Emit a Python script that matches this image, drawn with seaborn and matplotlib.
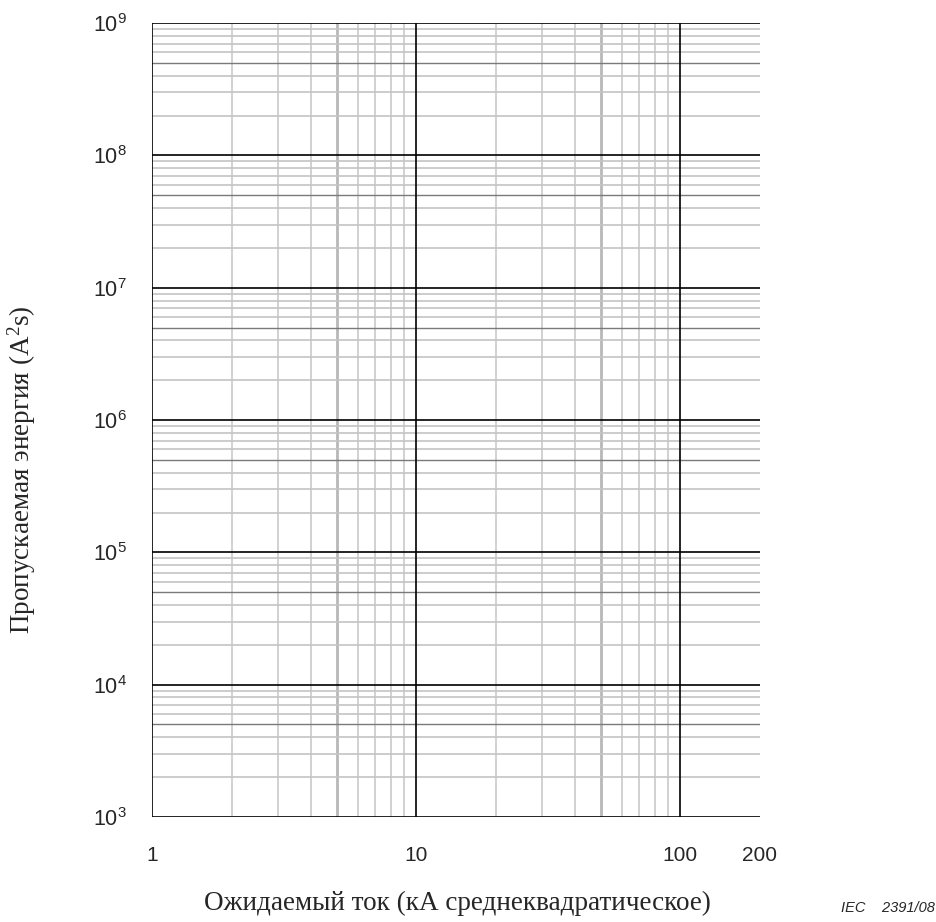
import numpy as np
import matplotlib
matplotlib.use('Agg')
import matplotlib.pyplot as plt
import seaborn as sns

# axis ranges
x_limits = [1, 200]
y_limits = [1e3, 1e9]

# grid positions
x_major = [1, 10, 100]
x_minor = [2, 3, 4, 6, 7, 8, 9, 20, 30, 40, 60, 70, 80, 90]
x_five = [5, 50]
y_major = [1e3, 1e4, 1e5, 1e6, 1e7, 1e8, 1e9]
y_minor = [m * 10.0**e for e in range(3, 9) for m in (2, 3, 4, 6, 7, 8, 9)]
y_five = [5 * 10.0**e for e in range(3, 9)]

# tick labels
x_ticks = [1, 10, 100, 200]
x_ticklabels = ['1', '10', '100', '200']
y_ticklabels = [r'$\mathregular{10^{%d}}$' % e for e in range(3, 10)]

sns.set_style('white')
plt.rcParams['font.family'] = ['Liberation Sans', 'DejaVu Sans']

fig = plt.figure(figsize=(9.37, 9.22), dpi=100)
ax = fig.add_axes([0.1622, 0.1139, 0.6488, 0.8611])

ax.set_xscale('log')
ax.set_yscale('log')
ax.set_xlim(x_limits)
ax.set_ylim(y_limits)

# light grid first, then darker lines on top
for v in x_minor:
    ax.axvline(v, color='#c9c9c9', lw=1.2, zorder=1)
for v in x_five:
    ax.axvline(v, color='#b8b8b8', lw=2.0, zorder=1)
for h in y_minor:
    ax.axhline(h, color='#c4c4c4', lw=1.2, zorder=1)
for h in y_five:
    ax.axhline(h, color='#7a7a7a', lw=1.0, zorder=2)
for h in y_major:
    ax.axhline(h, color='black', lw=1.2, zorder=3)
for v in x_major:
    ax.axvline(v, color='black', lw=1.2, zorder=3)

sns.despine(ax=ax, left=True, bottom=True, top=True, right=True)

ax.set_xticks(x_ticks)
ax.set_xticklabels(x_ticklabels)
ax.set_yticks(y_major)
ax.set_yticklabels(y_ticklabels)
ax.minorticks_off()
ax.tick_params(axis='x', length=0, pad=21, labelsize=15)
ax.tick_params(axis='y', length=0, pad=18, labelsize=15.5)

fig.text(0.488, 0.0206, 'Ожидаемый ток (кА среднеквадратическое)',
         family='Liberation Serif', fontsize=19.5, ha='center', va='center')
fig.text(0.0235, 0.49, 'Пропускаемая энергия (A$\\mathregular{^2}$s)',
         family='Liberation Serif', fontsize=19.5, rotation=90,
         ha='center', va='center')
fig.text(0.998, 0.0155, 'IEC    2391/08', fontsize=10.5, style='italic',
         ha='right', va='center')

plt.savefig('out.png', dpi=100)
